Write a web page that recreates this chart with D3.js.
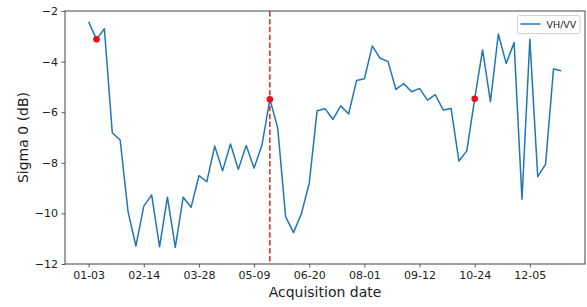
<!DOCTYPE html>
<html>
<head>
<meta charset="utf-8">
<script src="https://cdn.jsdelivr.net/npm/d3@7"></script>
<style>
  html, body { margin: 0; padding: 0; background: #fff; }
  svg { display: block; font-family: "DejaVu Sans", sans-serif; }
</style>
</head>
<body>
<svg id="chart" width="587" height="307"></svg>
<script>
// ---- data ----
const startDate = "2019-01-03";
const stepDays = 6;
const ratioValues = [
  -2.43, -3.12, -2.70, -6.81, -7.10, -9.93, -11.29, -9.71, -9.27, -11.32,
  -9.36, -11.34, -9.36, -9.76, -8.51, -8.75, -7.34, -8.32, -7.26, -8.26,
  -7.32, -8.21, -7.30, -5.49, -6.62, -10.13, -10.76, -10.02, -8.81, -5.94,
  -5.86, -6.28, -5.75, -6.07, -4.75, -4.68, -3.38, -3.87, -4.00, -5.10,
  -4.87, -5.19, -5.06, -5.52, -5.31, -5.91, -5.85, -7.93, -7.53, -5.47,
  -3.54, -5.58, -2.91, -4.07, -3.25, -9.44, -3.12, -8.55, -8.05, -4.29,
  -4.36
];
const markedDates = ["2019-01-09", "2019-05-21", "2019-10-24"];
const eventDate = "2019-05-21";
const yTicks = [-12, -10, -8, -6, -4, -2];
const xTickLabels = ["01-03", "02-14", "03-28", "05-09", "06-20", "08-01", "09-12", "10-24", "12-05"];
const seriesName = "VH/VV";
const xLabel = "Acquisition date";
const yLabel = "Sigma 0 (dB)";

// ---- build ----
const parse = d3.utcParse("%Y-%m-%d");
const t0 = parse(startDate);
const data = ratioValues.map((v, i) => ({ date: d3.utcDay.offset(t0, i * stepDays), value: v }));
const fmtKey = d3.utcFormat("%Y-%m-%d");
const byKey = new Map(data.map(d => [fmtKey(d.date), d]));
const marks = markedDates.map(k => byKey.get(k));

const svg = d3.select("#chart");
const L = 65, R = 585, T = 11, B = 264;

const first = data[0].date, last = data[data.length - 1].date;
const span = last - first;
const x = d3.scaleUtc()
  .domain([new Date(+first - span * 0.05), new Date(+last + span * 0.05)])
  .range([L, R]);
const y = d3.scaleLinear().domain([-12, -2]).range([B, T]);

const xTickDates = xTickLabels.map(s => parse("2019-" + s));

// axes
const minus = s => s.replace("-", "\u2212");
const xAxis = d3.axisBottom(x).tickValues(xTickDates).tickFormat(d3.utcFormat("%m-%d")).tickSize(3.5).tickPadding(3.5);
const yAxis = d3.axisLeft(y).tickValues(yTicks).tickFormat(d => minus(String(d))).tickSize(3.5).tickPadding(3.5);

const gx = svg.append("g").attr("transform", `translate(0,${B})`).call(xAxis);
const gy = svg.append("g").attr("transform", `translate(${L},0)`).call(yAxis);
[gx, gy].forEach(g => {
  g.select(".domain").remove();
  g.selectAll(".tick line").attr("stroke", "#333").attr("stroke-width", 0.8);
  g.selectAll(".tick text").attr("fill", "#222").attr("font-size", 11).attr("font-family", "DejaVu Sans");
});

// line
const line = d3.line().x(d => x(d.date)).y(d => y(d.value));
svg.append("path").datum(data)
  .attr("fill", "none").attr("stroke", "#1f77b4").attr("stroke-width", 1.5)
  .attr("stroke-linejoin", "round").attr("d", line);

// event line
svg.append("line")
  .attr("x1", x(parse(eventDate))).attr("x2", x(parse(eventDate)))
  .attr("y1", T).attr("y2", B)
  .attr("stroke", "#dd2a2a").attr("stroke-width", 1.5).attr("stroke-dasharray", "5.5,2.4");

// marked points
svg.append("g").selectAll("circle").data(marks).join("circle")
  .attr("cx", d => x(d.date)).attr("cy", d => y(d.value)).attr("r", 3.3)
  .attr("fill", "#e8101a");

// frame
svg.append("rect").attr("x", L).attr("y", T).attr("width", R - L).attr("height", B - T)
  .attr("fill", "none").attr("stroke", "#444").attr("stroke-width", 1);

// legend
const lg = svg.append("g");
lg.append("rect").attr("x", 517.5).attr("y", 15.5).attr("width", 62.5).attr("height", 18)
  .attr("rx", 2).attr("fill", "#fff").attr("fill-opacity", 0.8).attr("stroke", "#d0d0d0").attr("stroke-width", 1);
lg.append("line").attr("x1", 520.5).attr("x2", 540.5).attr("y1", 24).attr("y2", 24)
  .attr("stroke", "#1f77b4").attr("stroke-width", 1.5);
lg.append("text").attr("x", 546.5).attr("y", 27.5).attr("font-size", 9.5).attr("fill", "#222").text(seriesName);

// labels
svg.append("text").attr("x", (L + R) / 2).attr("y", 297).attr("text-anchor", "middle")
  .attr("font-size", 14).attr("fill", "#222").text(xLabel);
svg.append("text").attr("transform", `translate(28,${(T + B) / 2}) rotate(-90)`).attr("text-anchor", "middle")
  .attr("font-size", 14).attr("fill", "#222").text(yLabel);
</script>
</body>
</html>
